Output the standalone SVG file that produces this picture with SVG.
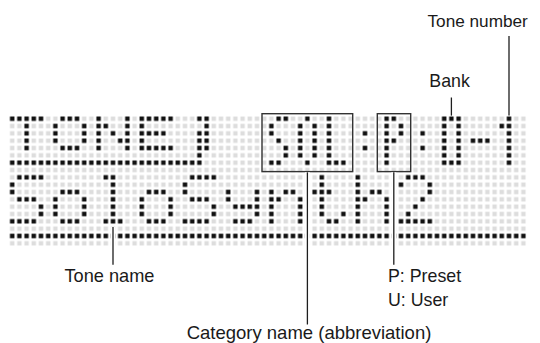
<svg xmlns="http://www.w3.org/2000/svg" width="540" height="343" viewBox="0 0 540 343">
  <desc>Dot-matrix LCD showing "TONE" / "SOL:P:0-1" / "SoloSynth2"</desc>
  <style>
    .lbl { font-family: "Liberation Sans", Arial, Helvetica, sans-serif; font-size: 17.8px; fill: #1a1a1a; }
    .box { fill: none; stroke: #333; stroke-width: 1.4; }
    .lead { stroke: #1e1e1e; stroke-width: 1.3; fill: none; }
    .halo { stroke: #fff; stroke-width: 5; fill: none; }
  </style>
  <defs>
    <pattern id="off" x="0" y="0" width="1" height="1" patternUnits="userSpaceOnUse">
      <rect x="0.1944" y="0.2" width="0.6111" height="0.6003" fill="#dddddd"/>
    </pattern>
    <pattern id="on" x="0" y="0" width="1" height="1" patternUnits="userSpaceOnUse">
      <rect x="0.1944" y="0.2" width="0.6111" height="0.6003" fill="#111"/>
    </pattern>
  </defs>
  <rect width="540" height="343" fill="#fff"/>

  <g id="lcd" transform="translate(8.6 115.035) scale(7.2 7.33)">
    <rect x="0" y="0" width="72" height="18" fill="url(#off)"/>
    <g fill="url(#on)">
      <path d="M0 0h5v1h-5z M7 0h3v1h-3z M12 0h1v1h-1z M16 0h1v1h-1z M18 0h5v1h-5z M26 0h2v1h-2z M37 0h2v1h-2z M41 0h1v1h-1z M44 0h1v1h-1z M52 0h2v1h-2z M60 0h3v1h-3z M69 0h1v1h-1z"/>
      <path d="M2 1h1v1h-1z M6 1h1v1h-1z M10 1h1v1h-1z M12 1h2v1h-2z M16 1h1v1h-1z M18 1h1v1h-1z M27 1h1v1h-1z M36 1h1v1h-1z M40 1h1v1h-1z M42 1h1v1h-1z M44 1h1v1h-1z M52 1h1v1h-1z M54 1h1v1h-1z M60 1h1v1h-1z M62 1h1v1h-1z M68 1h2v1h-2z"/>
      <path d="M2 2h1v1h-1z M6 2h1v1h-1z M10 2h1v1h-1z M12 2h1v1h-1z M14 2h1v1h-1z M16 2h1v1h-1z M18 2h4v1h-4z M26 2h2v1h-2z M36 2h1v1h-1z M40 2h1v1h-1z M42 2h1v1h-1z M44 2h1v1h-1z M49 2h1v1h-1z M52 2h1v1h-1z M54 2h1v1h-1z M57 2h1v1h-1z M60 2h1v1h-1z M62 2h1v1h-1z M69 2h1v1h-1z"/>
      <path d="M2 3h1v1h-1z M6 3h1v1h-1z M10 3h1v1h-1z M12 3h1v1h-1z M15 3h2v1h-2z M18 3h1v1h-1z M26 3h2v1h-2z M37 3h1v1h-1z M40 3h1v1h-1z M42 3h1v1h-1z M44 3h1v1h-1z M52 3h2v1h-2z M60 3h1v1h-1z M62 3h1v1h-1z M64 3h3v1h-3z M69 3h1v1h-1z"/>
      <path d="M2 4h1v1h-1z M7 4h3v1h-3z M12 4h1v1h-1z M16 4h1v1h-1z M18 4h5v1h-5z M26 4h2v1h-2z M38 4h1v1h-1z M40 4h1v1h-1z M42 4h1v1h-1z M44 4h1v1h-1z M49 4h1v1h-1z M52 4h1v1h-1z M57 4h1v1h-1z M60 4h1v1h-1z M62 4h1v1h-1z M69 4h1v1h-1z"/>
      <path d="M26 5h1v1h-1z M38 5h1v1h-1z M40 5h1v1h-1z M42 5h1v1h-1z M44 5h1v1h-1z M52 5h1v1h-1z M60 5h1v1h-1z M62 5h1v1h-1z M69 5h1v1h-1z"/>
      <path d="M0 6h27v1h-27z M36 6h2v1h-2z M41 6h1v1h-1z M44 6h3v1h-3z M52 6h1v1h-1z M60 6h3v1h-3z M69 6h1v1h-1z"/>
      <path d="M1 8h4v1h-4z M13 8h2v1h-2z M25 8h4v1h-4z M43 8h1v1h-1z M48 8h1v1h-1z M55 8h3v1h-3z"/>
      <path d="M0 9h1v1h-1z M14 9h1v1h-1z M24 9h1v1h-1z M43 9h1v1h-1z M48 9h1v1h-1z M54 9h1v1h-1z M58 9h1v1h-1z"/>
      <path d="M0 10h1v1h-1z M7 10h3v1h-3z M14 10h1v1h-1z M19 10h3v1h-3z M24 10h1v1h-1z M30 10h1v1h-1z M34 10h1v1h-1z M36 10h1v1h-1z M38 10h2v1h-2z M42 10h3v1h-3z M48 10h1v1h-1z M50 10h2v1h-2z M58 10h1v1h-1z"/>
      <path d="M1 11h3v1h-3z M6 11h1v1h-1z M10 11h1v1h-1z M14 11h1v1h-1z M18 11h1v1h-1z M22 11h1v1h-1z M25 11h3v1h-3z M30 11h1v1h-1z M34 11h1v1h-1z M36 11h2v1h-2z M40 11h1v1h-1z M43 11h1v1h-1z M48 11h2v1h-2z M52 11h1v1h-1z M57 11h1v1h-1z"/>
      <path d="M4 12h1v1h-1z M6 12h1v1h-1z M10 12h1v1h-1z M14 12h1v1h-1z M18 12h1v1h-1z M22 12h1v1h-1z M28 12h1v1h-1z M31 12h4v1h-4z M36 12h1v1h-1z M40 12h1v1h-1z M43 12h1v1h-1z M48 12h1v1h-1z M52 12h1v1h-1z M56 12h1v1h-1z"/>
      <path d="M4 13h1v1h-1z M6 13h1v1h-1z M10 13h1v1h-1z M14 13h1v1h-1z M18 13h1v1h-1z M22 13h1v1h-1z M28 13h1v1h-1z M34 13h1v1h-1z M36 13h1v1h-1z M40 13h1v1h-1z M43 13h1v1h-1z M46 13h1v1h-1z M48 13h1v1h-1z M52 13h1v1h-1z M55 13h1v1h-1z"/>
      <path d="M0 14h4v1h-4z M7 14h3v1h-3z M13 14h3v1h-3z M19 14h3v1h-3z M24 14h4v1h-4z M31 14h3v1h-3z M36 14h1v1h-1z M40 14h1v1h-1z M44 14h2v1h-2z M48 14h1v1h-1z M52 14h1v1h-1z M54 14h5v1h-5z"/>
      <path d="M0 16h72v1h-72z"/>
    </g>
  </g>

  <g id="box-category">
    <rect class="box" x="262" y="113.7" width="90.7" height="57.9"/>
  </g>
  <g id="box-type">
    <rect class="box" x="377.3" y="113.7" width="33.4" height="57.9"/>
  </g>

  <g id="connectors">
    <line class="lead" x1="509" y1="36" x2="509" y2="115.6"/>
    <line class="lead" x1="451.4" y1="97.5" x2="451.4" y2="115.6"/>
    <line class="halo" x1="307.4" y1="172.3" x2="307.4" y2="247"/>
    <line class="lead" x1="307.4" y1="172.3" x2="307.4" y2="324.5"/>
    <line class="halo" x1="393.8" y1="172.3" x2="393.8" y2="247"/>
    <line class="lead" x1="393.8" y1="172.3" x2="393.8" y2="264.8"/>
    <line class="halo" x1="113" y1="227" x2="113" y2="247"/>
    <line class="lead" x1="113" y1="227" x2="113" y2="264.8"/>
  </g>

  <g id="label-tone-number"><text class="lbl" x="427.5" y="27" style="font-size:17.2px">Tone number</text></g>
  <g id="label-bank"><text class="lbl" x="429.3" y="87">Bank</text></g>
  <g id="label-tone-name"><text class="lbl" x="64.5" y="282" style="font-size:18.2px">Tone name</text></g>
  <g id="label-type">
    <text class="lbl" x="388" y="282">P: Preset</text>
    <text class="lbl" x="388" y="305.5">U: User</text>
  </g>
  <g id="label-category"><text class="lbl" x="309" y="338.5" text-anchor="middle" style="font-size:18.5px">Category name (abbreviation)</text></g>
</svg>
